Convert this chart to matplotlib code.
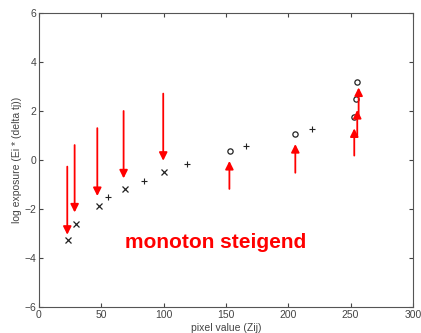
import matplotlib.pyplot as plt
import numpy as np

# samples
x_cross = [23.5, 29.7, 47.8, 68.7, 100.7]
y_cross = [-3.28, -2.60, -1.88, -1.18, -0.50]

x_plus = [55.6, 83.9, 118.6, 165.9, 219.3]
y_plus = [-1.53, -0.85, -0.15, 0.57, 1.27]

x_circ = [153.1, 205.7, 252.5, 254.6, 254.9]
y_circ = [0.37, 1.06, 1.76, 2.48, 3.18]

# arrows: x, start y, end y
arrow_x = [22.7, 28.6, 46.8, 67.9, 99.7, 152.8, 205.7, 253.0, 255.4, 256.5]
arrow_y0 = [-0.27, 0.61, 1.30, 2.00, 2.71, -1.18, -0.52, 0.18, 0.95, 1.80]
arrow_y1 = [-3.05, -2.14, -1.47, -0.75, -0.03, -0.04, 0.65, 1.29, 2.04, 2.96]

plt.rcParams['font.family'] = ['Liberation Sans', 'DejaVu Sans']

fig = plt.figure(figsize=(4.21, 3.33), dpi=100)
ax = fig.add_axes([0.0926, 0.078, 0.888, 0.883])

ax.plot(x_cross, y_cross, 'x', color='#222222', markersize=4.5, mew=0.9)
ax.plot(x_plus, y_plus, '+', color='#222222', markersize=5, mew=0.8)
ax.plot(x_circ, y_circ, 'o', mfc='none', mec='#222222', markersize=3.8, mew=0.9)

for xa, ya, yb in zip(arrow_x, arrow_y0, arrow_y1):
    ax.annotate('', xy=(xa, yb), xytext=(xa, ya),
                arrowprops=dict(arrowstyle='-|>', color='red', lw=1.3,
                                mutation_scale=12, shrinkA=0, shrinkB=0))

ax.text(141.9, -3.37, 'monoton steigend', color='red', fontsize=15,
        fontweight='bold', ha='center', va='center')

ax.set_xlim(0, 300)
ax.set_ylim(-6, 6)
ax.set_xticks(np.arange(0, 301, 50))
ax.set_yticks(np.arange(-6, 7, 2))
ax.tick_params(direction='in', top=True, right=True, labelsize=7.5,
               labelcolor='#444444', color='#444444', length=3, pad=2)
for s in ax.spines.values():
    s.set_color('#555555')
    s.set_linewidth(0.8)

ax.set_xlabel('pixel value (Zij)', fontsize=7.5, color='#444444', labelpad=2)
ax.set_ylabel('log exposure (Ei * (delta tj))', fontsize=7.5, color='#444444', labelpad=2)

fig.savefig('out.png', dpi=100)
